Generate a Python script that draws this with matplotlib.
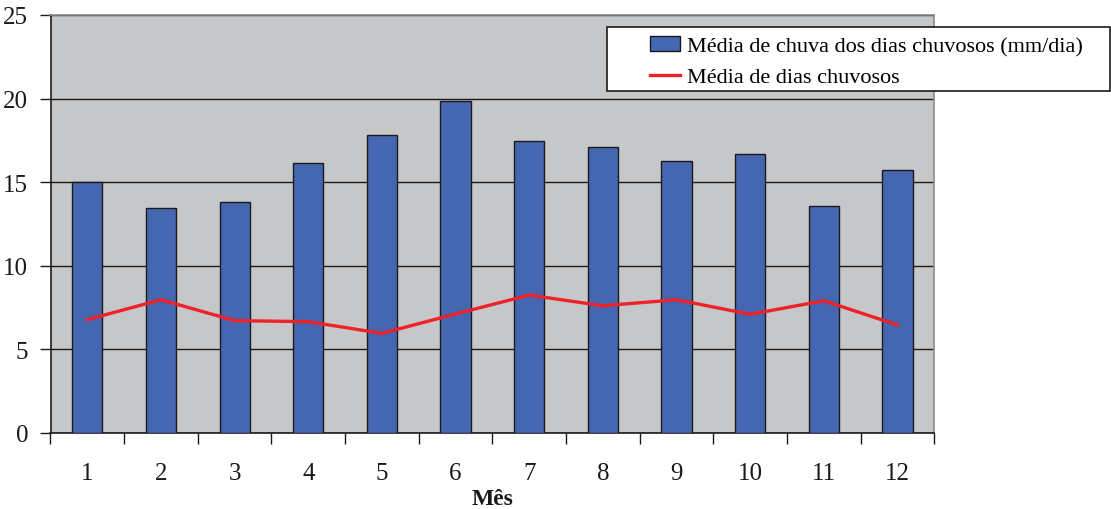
import numpy as np
from matplotlib import pyplot as plt
from matplotlib.patches import Rectangle, Patch
from matplotlib.lines import Line2D

plt.rcParams['font.family'] = ['Liberation Serif', 'DejaVu Serif']

# Data
meses = [1, 2, 3, 4, 5, 6, 7, 8, 9, 10, 11, 12]
chuva_media = [15.0, 13.46, 13.8, 16.13, 17.8, 19.83, 17.46, 17.08, 16.27, 16.7, 13.6, 15.75]
dias_chuvosos = [6.78, 7.97, 6.72, 6.66, 5.96, 7.12, 8.25, 7.61, 7.97, 7.1, 7.91, 6.46]
label_barras = "Média de chuva dos dias chuvosos (mm/dia)"
label_linha = "Média de dias chuvosos"

W, H = 1111, 510
fig = plt.figure(figsize=(W / 100, H / 100), dpi=100)
ax = fig.add_axes([50.5 / W, 1 - 434 / H, (934.3 - 50.5) / W, (434 - 16) / H])

x = np.arange(len(meses))
ax.set_facecolor('#c6c7c9')
ax.bar(x, chuva_media, width=0.41, color='#4566b0', edgecolor='#1a1a1a',
       linewidth=1, zorder=3)
ax.plot(x, dias_chuvosos, color='#ee2229', linewidth=2.4, zorder=4,
        solid_joinstyle='miter')

ax.set_xlim(-0.5, len(meses) - 0.5)
ax.set_ylim(0, 25)
ax.set_yticks([0, 5, 10, 15, 20, 25])
ax.yaxis.grid(True, color='#1a1a1a', linewidth=1)
ax.set_axisbelow(True)

# major ticks at category boundaries, labels at centres
ax.set_xticks(np.arange(len(meses) + 1) - 0.5)
ax.set_xticklabels([])
ax.set_xticks(x, minor=True)
ax.set_xticklabels([str(m) for m in meses], minor=True)
ax.tick_params(axis='x', which='major', direction='out', length=8, width=1,
               color='#1a1a1a')
ax.tick_params(axis='x', which='minor', length=0, pad=21, labelsize=18,
               labelcolor='#1a1a1a')
ax.tick_params(axis='y', direction='out', length=8, width=1, color='#1a1a1a',
               pad=8, labelsize=18, labelcolor='#1a1a1a')

for s in ['left', 'bottom']:
    ax.spines[s].set_color('#1a1a1a')
    ax.spines[s].set_linewidth(1.2)
for s in ['top', 'right']:
    ax.spines[s].set_color('#8a8a8a')
    ax.spines[s].set_linewidth(1.2)

ax.set_xlabel("Mês", fontsize=17, fontweight='bold', labelpad=3,
              color='#1a1a1a')

# legend box spanning past the plot area
fig.patches.append(Rectangle((607 / W, 1 - 92 / H), (1110 - 607) / W, 64 / H,
                             transform=fig.transFigure, facecolor='white',
                             edgecolor='#1a1a1a', linewidth=1.2, zorder=5))
handles = [Patch(facecolor='#4566b0', edgecolor='#1a1a1a', linewidth=1),
           Line2D([], [], color='#ee2229', linewidth=2.4)]
fig.legend(handles, [label_barras, label_linha], loc='upper left',
           bbox_to_anchor=(647 / W, 1 - 34 / H), frameon=False,
           fontsize=16, handlelength=1.35, handleheight=0.65,
           handletextpad=0.3, labelspacing=0.48, borderaxespad=0,
           borderpad=0.15).set_zorder(6)

fig.savefig('out.png', dpi=100)
